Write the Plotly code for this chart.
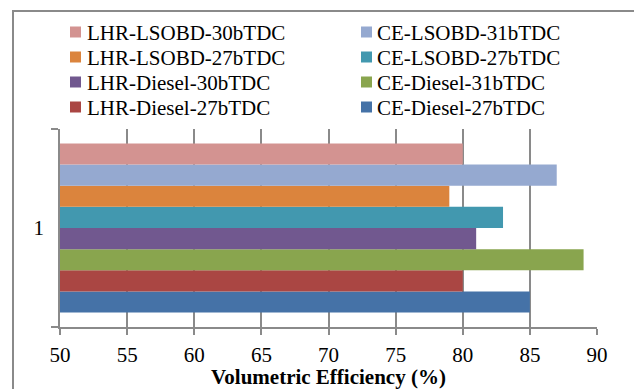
import plotly.graph_objects as go

category = ["1"]
# bottom-to-top bar order (Plotly draws first trace at bottom)
series_names = [
    "CE-Diesel-27bTDC",
    "LHR-Diesel-27bTDC",
    "CE-Diesel-31bTDC",
    "LHR-Diesel-30bTDC",
    "CE-LSOBD-27bTDC",
    "LHR-LSOBD-27bTDC",
    "CE-LSOBD-31bTDC",
    "LHR-LSOBD-30bTDC",
]
series_values = [85, 80, 89, 81, 83, 79, 87, 80]
series_colors = [
    "#4572A7",
    "#AA4643",
    "#89A54E",
    "#71588F",
    "#4298AF",
    "#DB843D",
    "#95A9D0",
    "#D39391",
]
x_ticks = [50, 55, 60, 65, 70, 75, 80, 85, 90]

FONT = "Liberation Serif"
GRID = "#8a8a8a"

W, H = 634, 389
ML, MR, MT, MB = 60, 37, 129, 62
PW, PH = W - ML - MR, H - MT - MB


def px_x(p):
    return (p - ML) / PW


def px_y(p):
    return (H - MB - p) / PH


fig = go.Figure()
for name, val, col in zip(series_names, series_values, series_colors):
    fig.add_trace(go.Bar(
        y=category, x=[val], name=name, orientation="h",
        marker=dict(color=col, line=dict(width=0)),
        showlegend=False,
    ))

# legend laid out in 2 columns x 4 rows, filled row-wise from the top bar down
legend_order = list(zip(series_names, series_colors))[::-1]
shapes = []
annotations = []
col_text_x = [85, 375]
col_box_x = [70, 361]
row_y = [32, 57, 82, 107]
for i, (name, col) in enumerate(legend_order):
    r, c = divmod(i, 2)
    cy = row_y[r]
    shapes.append(dict(
        type="rect", xref="paper", yref="paper",
        x0=px_x(col_box_x[c]), x1=px_x(col_box_x[c] + 11),
        y0=px_y(cy + 5.5), y1=px_y(cy - 5.5),
        line=dict(width=0), fillcolor=col, layer="above",
    ))
    annotations.append(dict(
        text=name, xref="paper", yref="paper",
        x=px_x(col_text_x[c]), y=px_y(cy + 1),
        xanchor="left", yanchor="middle", showarrow=False,
        font=dict(family=FONT, size=21, color="black"),
    ))

# outer chart frame
shapes.append(dict(
    type="rect", xref="paper", yref="paper",
    x0=px_x(13), x1=px_x(645),
    y0=px_y(400), y1=px_y(11),
    line=dict(color=GRID, width=2), fillcolor="rgba(0,0,0,0)", layer="above",
))

fig.update_layout(
    width=W, height=H,
    margin=dict(l=ML, r=MR, t=MT, b=MB, autoexpand=False),
    paper_bgcolor="white", plot_bgcolor="white",
    barmode="group", bargap=0.146, bargroupgap=0,
    font=dict(family=FONT, size=21, color="black"),
    showlegend=False,
    xaxis=dict(
        range=[50, 90], tickvals=x_ticks, ticktext=[str(v) for v in x_ticks],
        showgrid=True, gridcolor=GRID, gridwidth=1.5,
        showline=True, linecolor=GRID, linewidth=1.5,
        ticks="outside", ticklen=6, tickcolor=GRID, tickwidth=1.5,
        ticklabelstandoff=2, automargin=False,
        zeroline=False,
        title=dict(text="<b>Volumetric Efficiency (%)</b>", standoff=12,
                   font=dict(family=FONT, size=21)),
    ),
    yaxis=dict(
        type="category", tickson="boundaries",
        showline=True, linecolor=GRID, linewidth=1.5,
        ticks="outside", ticklen=7, tickcolor=GRID, tickwidth=1.5,
        ticklabelstandoff=10, automargin=False,
        showgrid=False, zeroline=False,
    ),
    shapes=shapes,
    annotations=annotations,
)

fig.write_html("out.html")
